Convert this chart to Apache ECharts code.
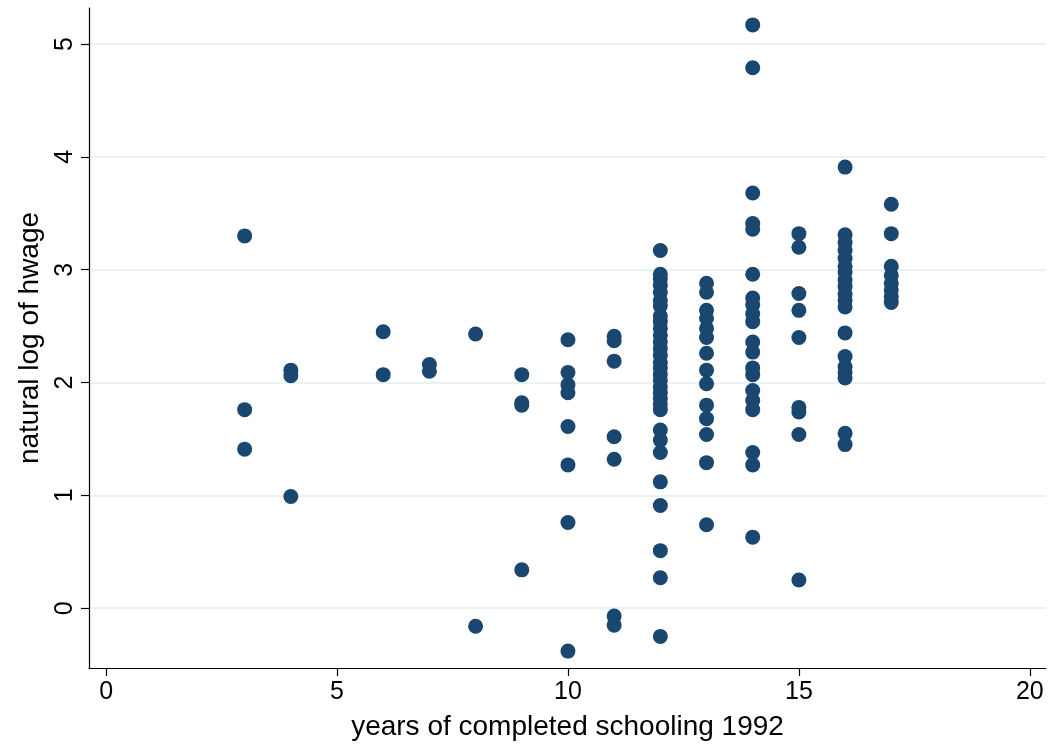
<!DOCTYPE html>
<html>
<head>
<meta charset="utf-8">
<script src="https://cdn.jsdelivr.net/npm/echarts@6/dist/echarts.min.js"></script>
<style>
  html, body { margin: 0; padding: 0; background: #fff; }
  #chart { width: 1052px; height: 744px; }
</style>
</head>
<body>
<div id="chart"></div>
<script>
// Years of completed schooling (1992) vs natural log of hourly wage
const xTicks = [0, 5, 10, 15, 20];
const yTicks = [0, 1, 2, 3, 4, 5];

// schooling years present in the sample
const schoolingYears = [3, 4, 6, 7, 8, 9, 10, 11, 12, 13, 14, 15, 16, 17];

// log hourly wage observations, one list per schooling year (same order as above)
const wage3  = [3.30, 1.76, 1.41];
const wage4  = [2.11, 2.06, 0.99];
const wage6  = [2.45, 2.07];
const wage7  = [2.16, 2.10];
const wage8  = [2.43, -0.16];
const wage9  = [2.07, 1.82, 1.80, 0.34];
const wage10 = [2.38, 2.09, 1.98, 1.91, 1.61, 1.27, 0.76, -0.38];
const wage11 = [2.41, 2.37, 2.19, 1.52, 1.32, -0.07, -0.15];
const wage12 = [3.17, 2.96, 2.92, 2.86, 2.80, 2.73, 2.68, 2.59, 2.54, 2.48, 2.42, 2.36, 2.30, 2.24, 2.18, 2.13,
                2.07, 2.02, 1.96, 1.91, 1.86, 1.81, 1.76, 1.58, 1.49, 1.38, 1.12, 0.91, 0.51, 0.27, -0.25];
const wage13 = [2.88, 2.80, 2.64, 2.57, 2.48, 2.40, 2.26, 2.11, 1.99, 1.80, 1.68, 1.54, 1.29, 0.74];
const wage14 = [5.17, 4.79, 3.68, 3.41, 3.36, 2.96, 2.75, 2.69, 2.61, 2.54, 2.36, 2.27, 2.13, 2.07, 1.93, 1.84,
                1.76, 1.38, 1.27, 0.63];
const wage15 = [3.32, 3.20, 2.79, 2.64, 2.40, 1.78, 1.74, 1.54, 0.25];
const wage16 = [3.91, 3.31, 3.24, 3.17, 3.10, 3.03, 2.98, 2.91, 2.85, 2.78, 2.73, 2.67, 2.44, 2.23, 2.14, 2.09,
                2.04, 1.55, 1.45];
const wage17 = [3.58, 3.32, 3.03, 2.95, 2.88, 2.82, 2.76, 2.71];

const wageGroups = [wage3, wage4, wage6, wage7, wage8, wage9, wage10, wage11, wage12, wage13, wage14, wage15, wage16, wage17];

const points = [];
schoolingYears.forEach((yr, i) => {
  wageGroups[i].forEach(w => points.push([yr, w]));
});

const FONT = '"Liberation Sans", Arial, Helvetica, sans-serif';
const INK = '#000';

const chart = echarts.init(document.getElementById('chart'), null, { renderer: 'canvas' });
chart.setOption({
  animation: false,
  backgroundColor: '#fff',
  grid: { left: 89, right: 6, top: 8, bottom: 76, containLabel: false, outerBoundsMode: 'none' },
  xAxis: {
    type: 'value',
    min: -0.37,
    max: 20.35,
    name: 'years of completed schooling 1992',
    nameLocation: 'middle',
    nameGap: 45,
    nameTextStyle: { fontFamily: FONT, fontSize: 28, color: INK },
    axisLine: { show: true, onZero: false, lineStyle: { color: INK, width: 1.2 } },
    axisTick: { show: true, length: 8, customValues: xTicks, lineStyle: { color: INK, width: 1.2 } },
    axisLabel: { customValues: xTicks, fontFamily: FONT, fontSize: 25, color: INK, margin: 12 },
    splitLine: { show: false }
  },
  yAxis: {
    type: 'value',
    min: -0.53,
    max: 5.32,
    name: 'natural log of hwage',
    nameLocation: 'middle',
    nameGap: 45,
    nameTextStyle: { fontFamily: FONT, fontSize: 28, color: INK },
    axisLine: { show: true, onZero: false, lineStyle: { color: INK, width: 1.2 } },
    axisTick: { show: true, length: 8, customValues: yTicks, lineStyle: { color: INK, width: 1.2 } },
    axisLabel: { customValues: yTicks, rotate: 90, fontFamily: FONT, fontSize: 25, color: INK, margin: 11 },
    splitLine: { show: true, lineStyle: { color: '#e9f1f3', width: 2 } }
  },
  series: [{
    type: 'scatter',
    data: points,
    symbol: 'circle',
    symbolSize: 15,
    itemStyle: { color: '#1a476f', opacity: 1 }
  }]
});
</script>
</body>
</html>
